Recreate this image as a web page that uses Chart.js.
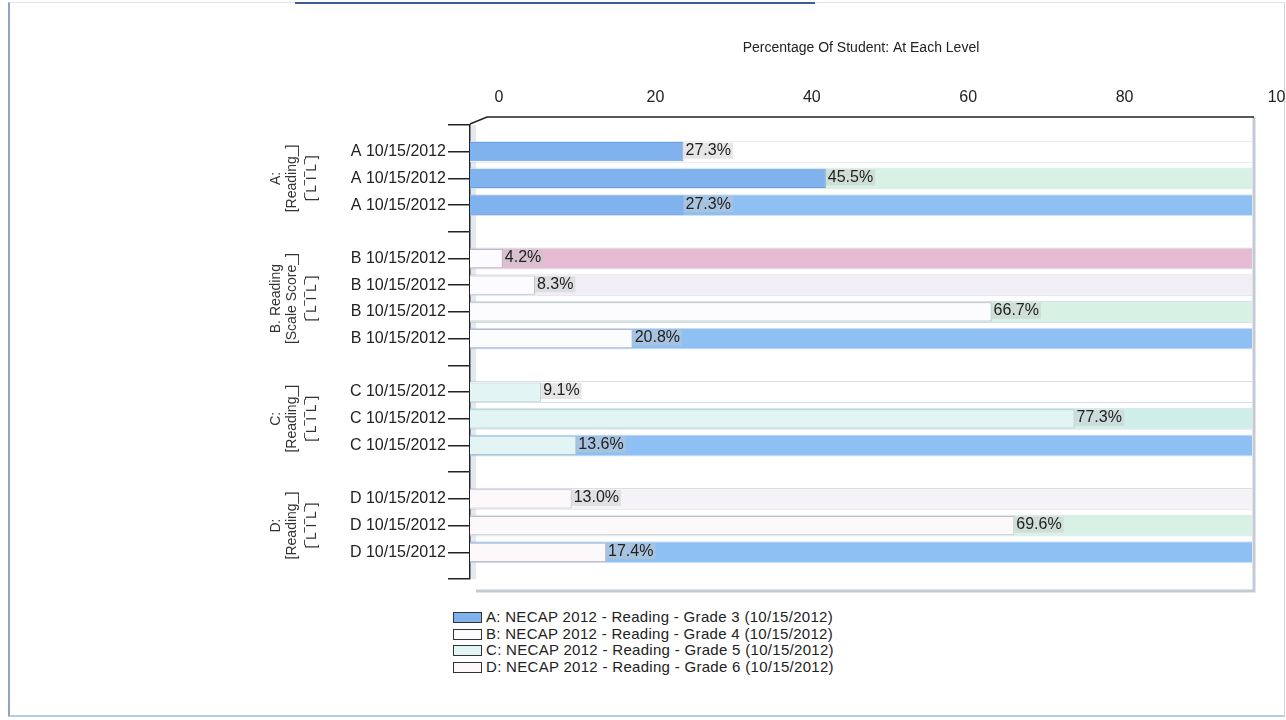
<!DOCTYPE html>
<html>
<head>
<meta charset="utf-8">
<script src="https://cdn.jsdelivr.net/npm/chart.js@4.4.0/dist/chart.umd.min.js"></script>
<style>
body{margin:0;background:#fff;}
#frame{position:absolute;left:8px;top:2px;width:1274px;height:712px;border-left:2px solid #8ea4c4;border-bottom:2px solid #b4cce6;border-right:1px solid #cfd4dc;border-top:1px solid #dfe6ef;}
#topline{position:absolute;left:295px;top:2px;width:520px;height:2px;background:#3d5f91;}
#wrap{position:absolute;left:0;top:0;width:1286px;height:600px;}
#legend{position:absolute;left:453px;top:609px;font:15px "Liberation Sans", Arial, sans-serif;letter-spacing:0.3px;color:#222;}
#legend div{height:16.5px;line-height:16.5px;white-space:nowrap;}
#legend span{display:inline-block;width:27px;height:9px;border:1.5px solid #333;margin-right:4px;vertical-align:-1px;}
</style>
</head>
<body>
<div id="frame"></div>
<div id="topline"></div>
<div id="wrap"><canvas id="chart" width="1286" height="600"></canvas></div>
<div id="legend"></div>
<script>
// row labels ('' = group separator)
const rowLabels = ['',
    'A 10/15/2012','A 10/15/2012','A 10/15/2012','',
    'B 10/15/2012','B 10/15/2012','B 10/15/2012','B 10/15/2012','',
    'C 10/15/2012','C 10/15/2012','C 10/15/2012','',
    'D 10/15/2012','D 10/15/2012','D 10/15/2012',''];

const gradeA = [27.3, 45.5, 27.3];
const gradeB = [4.2, 8.3, 66.7, 20.8];
const gradeC = [9.1, 77.3, 13.6];
const gradeD = [13.0, 69.6, 17.4];

const xTicks = [0, 20, 40, 60, 80, 100];

const groupTitles = [
    ['A:', '[Reading_]', '[‾L‾I‾L‾]'],
    ['B. Reading', '[Scale Score_]', '[‾L‾I‾L‾]'],
    ['C:', '[Reading_]', '[‾L‾I‾L‾]'],
    ['D:', '[Reading_]', '[‾L‾I‾L‾]']
];

const legendLabels = [
    'A: NECAP 2012 - Reading - Grade 3 (10/15/2012)',
    'B: NECAP 2012 - Reading - Grade 4 (10/15/2012)',
    'C: NECAP 2012 - Reading - Grade 5 (10/15/2012)',
    'D: NECAP 2012 - Reading - Grade 6 (10/15/2012)'
];

// styles
const fillColors = ['#80b3ee', '#fcfcfe', '#e3f4f5', '#fdf8fa'];
const edgeColors = ['#6b9fe0', '#b8b8c8', '#a9c8cc', '#c4bccc'];
const bandColors = ['#ffffff',
    '#ffffff', '#d8f1e5', '#8ec0f3', '#ffffff',
    '#e6bcd4', '#f1eff5', '#d8f1e5', '#8ec0f3', '#ffffff',
    '#ffffff', '#cfeeea', '#8ec0f3', '#ffffff',
    '#f5f3f8', '#d8f1e5', '#8ec0f3', '#ffffff'];
const FONT = '"Liberation Sans", Arial, sans-serif';
const NARROW = '"Liberation Sans Narrow", "Liberation Sans", Arial, sans-serif';

/* place each group's values on its rows */
const groups = [gradeA, gradeB, gradeC, gradeD];
let groupRows = [];
let pos = 1;
groups.forEach(g => {
    groupRows.push([pos, pos + g.length - 1]);
    pos += g.length + 1;
});

function placeGroup(gi){
    let out = rowLabels.map(() => null);
    groups[gi].forEach((v, i) => { out[groupRows[gi][0] + i] = v; });
    return out;
}

// full 0-100 level band behind each row
const bandValues = rowLabels.map(l => l ? 100 : null);

let datasets = groups.map((g, gi) => ({
    label: legendLabels[gi],
    data: placeGroup(gi),
    backgroundColor: fillColors[gi],
    borderColor: edgeColors[gi],
    borderWidth: 1,
    grouped: false,
    barPercentage: 0.72,
    categoryPercentage: 1,
    order: 1
}));
datasets.push({
    label: 'band',
    data: bandValues,
    backgroundColor: bandColors,
    borderColor: 'rgba(180,190,210,0.5)',
    borderWidth: {top: 1, bottom: 1, left: 0, right: 0},
    grouped: false,
    barPercentage: 0.82,
    categoryPercentage: 1,
    order: 2
});

/* 3D box look */
const boxPlugin = {
    id: 'box',
    beforeDatasetsDraw(chart){
        const {ctx, chartArea: a} = chart;
        ctx.save();
        ctx.fillStyle = '#e4e8ef';
        ctx.fillRect(a.left + 1, a.top, 5, a.bottom - a.top);
        ctx.strokeStyle = '#c3cad6';
        ctx.lineWidth = 3;
        ctx.beginPath();
        ctx.moveTo(a.right + 2, a.top - 8);
        ctx.lineTo(a.right + 2, a.bottom + 12);
        ctx.lineTo(a.left + 6, a.bottom + 12);
        ctx.stroke();
        ctx.strokeStyle = '#222';
        ctx.lineWidth = 1.5;
        ctx.beginPath();
        ctx.moveTo(a.left, a.top - 1);
        ctx.lineTo(a.left + 17, a.top - 8);
        ctx.lineTo(a.right + 2, a.top - 8);
        ctx.stroke();
        ctx.restore();
    }
};

/* value labels + group titles */
const labelPlugin = {
    id: 'labels',
    afterDatasetsDraw(chart){
        const ctx = chart.ctx;
        ctx.save();
        ctx.font = '16px ' + FONT;
        ctx.textBaseline = 'middle';
        for(let di = 0; di < 4; di++){
            chart.getDatasetMeta(di).data.forEach((bar, i) => {
                const v = chart.data.datasets[di].data[i];
                if(v === null) return;
                const txt = v.toFixed(1) + '%';
                const w = ctx.measureText(txt).width;
                ctx.fillStyle = 'rgba(200,200,200,0.45)';
                ctx.fillRect(bar.x, bar.y - 9, w + 4, 16);
                ctx.fillStyle = '#222';
                ctx.fillText(txt, bar.x + 2, bar.y - 1);
            });
        }

        const y = chart.scales.y;
        ctx.font = '14px ' + FONT;
        ctx.fillStyle = '#333';
        ctx.textAlign = 'center';
        const xs = [276, 292, 312];
        groupTitles.forEach((lines, gi) => {
            const cy = (y.getPixelForTick(groupRows[gi][0]) + y.getPixelForTick(groupRows[gi][1])) / 2;
            lines.forEach((t, li) => {
                ctx.save();
                ctx.translate(xs[li], cy);
                ctx.rotate(-Math.PI / 2);
                ctx.fillText(t, 0, 0);
                ctx.restore();
            });
        });
        ctx.restore();
    }
};

new Chart(document.getElementById('chart'), {
    type: 'bar',
    data: { labels: rowLabels, datasets: datasets },
    options: {
        indexAxis: 'y',
        responsive: false,
        animation: false,
        layout: { padding: { top: 40, right: 34, bottom: 21, left: 0 } },
        plugins: {
            legend: { display: false },
            tooltip: { enabled: false }
        },
        scales: {
            x: {
                position: 'top',
                min: 0,
                max: 100,
                afterBuildTicks: s => { s.ticks = xTicks.map(v => ({value: v})); },
                grid: { display: false },
                border: { display: false },
                ticks: {
                    color: '#222',
                    font: { family: NARROW, size: 16 },
                    labelOffset: 29,
                    padding: 10
                },
                title: {
                    display: true,
                    text: 'Percentage Of Student: At Each Level',
                    color: '#222',
                    font: { family: FONT, size: 14 },
                    padding: { top: 0, bottom: 21 }
                }
            },
            y: {
                offset: false,
                afterFit: s => { s.width = 470; },
                grid: {
                    offset: false,
                    drawOnChartArea: false,
                    tickLength: 22,
                    color: '#222',
                    lineWidth: 1.5
                },
                border: { color: '#222', width: 1.5 },
                ticks: {
                    autoSkip: false,
                    color: '#222',
                    font: { family: FONT, size: 16 },
                    padding: 2
                }
            }
        }
    },
    plugins: [boxPlugin, labelPlugin]
});

/* legend */
let html = '';
legendLabels.forEach((l, i) => {
    html += `<div><span style="background:${fillColors[i]}"></span>${l}</div>`;
});
document.getElementById('legend').innerHTML = html;
</script>
</body>
</html>
